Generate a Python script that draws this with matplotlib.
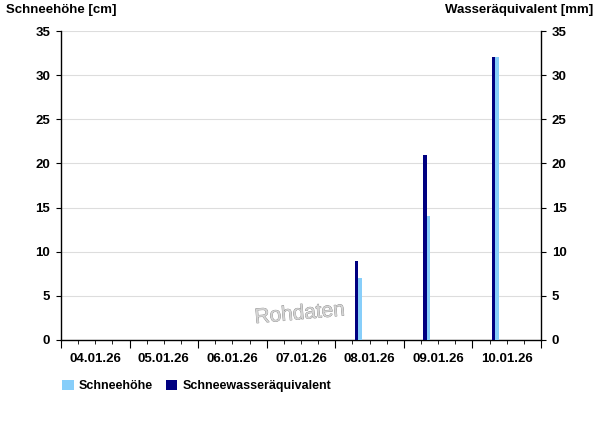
import datetime as dt
import numpy as np
import matplotlib
matplotlib.use("Agg")
import matplotlib.pyplot as plt
import matplotlib.dates as mdates
import matplotlib.patheffects as pe

# data
days = ["08.01.26", "09.01.26", "10.01.26"]
schneehoehe = [7, 14, 32]          # cm
wasseraequivalent = [9, 21, 32]    # mm
tick_days = ["04.01.26", "05.01.26", "06.01.26", "07.01.26", "08.01.26", "09.01.26", "10.01.26"]

plt.rcParams['font.family'] = ['Liberation Sans', 'DejaVu Sans']
plt.rcParams['font.weight'] = 'bold'
plt.rcParams['font.size'] = 9.5

def parse(d, hour=0):
    return dt.datetime.strptime(d, "%d.%m.%y") + dt.timedelta(hours=hour)

t = mdates.date2num([parse(d, 8) for d in days])
w = 0.052

fig = plt.figure(figsize=(6, 4.26), dpi=100)
ax = fig.add_axes([61/600, 1 - 340/426, 480/600, 309/426])

ax.bar(t - w/2, wasseraequivalent, width=w, color='#000080', label='Schneewasseräquivalent', zorder=3)
ax.bar(t + w/2, schneehoehe, width=w, color='#87CEFA', label='Schneehöhe', zorder=3)

start = mdates.date2num(parse(tick_days[0]))
n = len(tick_days)
ax.set_xlim(start, start + n)
ax.set_ylim(0, 35)
ax.set_yticks(np.arange(0, 36, 5))
ax.yaxis.grid(True, color='#dddddd', linewidth=0.8, zorder=0)

# day boundaries: long ticks; 6h steps: short ticks with labels at noon
ax.xaxis.remove_overlapping_locs = False
ax.set_xticks(start + np.arange(0, n + 0.01, 1))
ax.set_xticklabels([])
ax.set_xticks(start + np.arange(0, n, 0.25), minor=True)
minor_labels = []
for d in tick_days:
    minor_labels += ['', '', d, '']
ax.set_xticklabels(minor_labels, minor=True)
ax.tick_params(axis='x', which='major', length=5.8, direction='out')
ax.tick_params(axis='x', which='minor', length=2.6, direction='out', pad=6.5)
ax.tick_params(axis='y', which='major', left=True, right=True, labelright=True, direction='out')
for tk in ax.yaxis.get_major_ticks():
    tk.tick1line.set_markersize(5.8)
    tk.tick2line.set_markersize(4.3)
ax.tick_params(axis='y', which='major', pad=4.3)

ax.spines['top'].set_visible(False)
for s in ['left', 'right', 'bottom']:
    ax.spines[s].set_linewidth(1)

fig.text(6/600, 1 - 10/426, 'Schneehöhe [cm]', ha='left', va='center', fontsize=9.5, fontweight='bold')
fig.text(593/600, 1 - 10/426, 'Wasseräquivalent [mm]', ha='right', va='center', fontsize=9.5, fontweight='bold')

ax.text(0.498, 0.085, 'Rohdaten', transform=ax.transAxes, rotation=5, ha='center', va='center',
        fontsize=15, fontweight='normal', color='#d4d4d4', zorder=1,
        path_effects=[pe.withStroke(linewidth=0.5, foreground='#808080')])

handles, labels = ax.get_legend_handles_labels()
fig.legend(handles[::-1], labels[::-1], loc='center left', bbox_to_anchor=(51/600, 1 - 386/426),
           ncol=2, frameon=False, handlelength=0.9, handleheight=0.9, handletextpad=0.45,
           columnspacing=1.0, fontsize=9)

fig.savefig('out.png', dpi=100)
